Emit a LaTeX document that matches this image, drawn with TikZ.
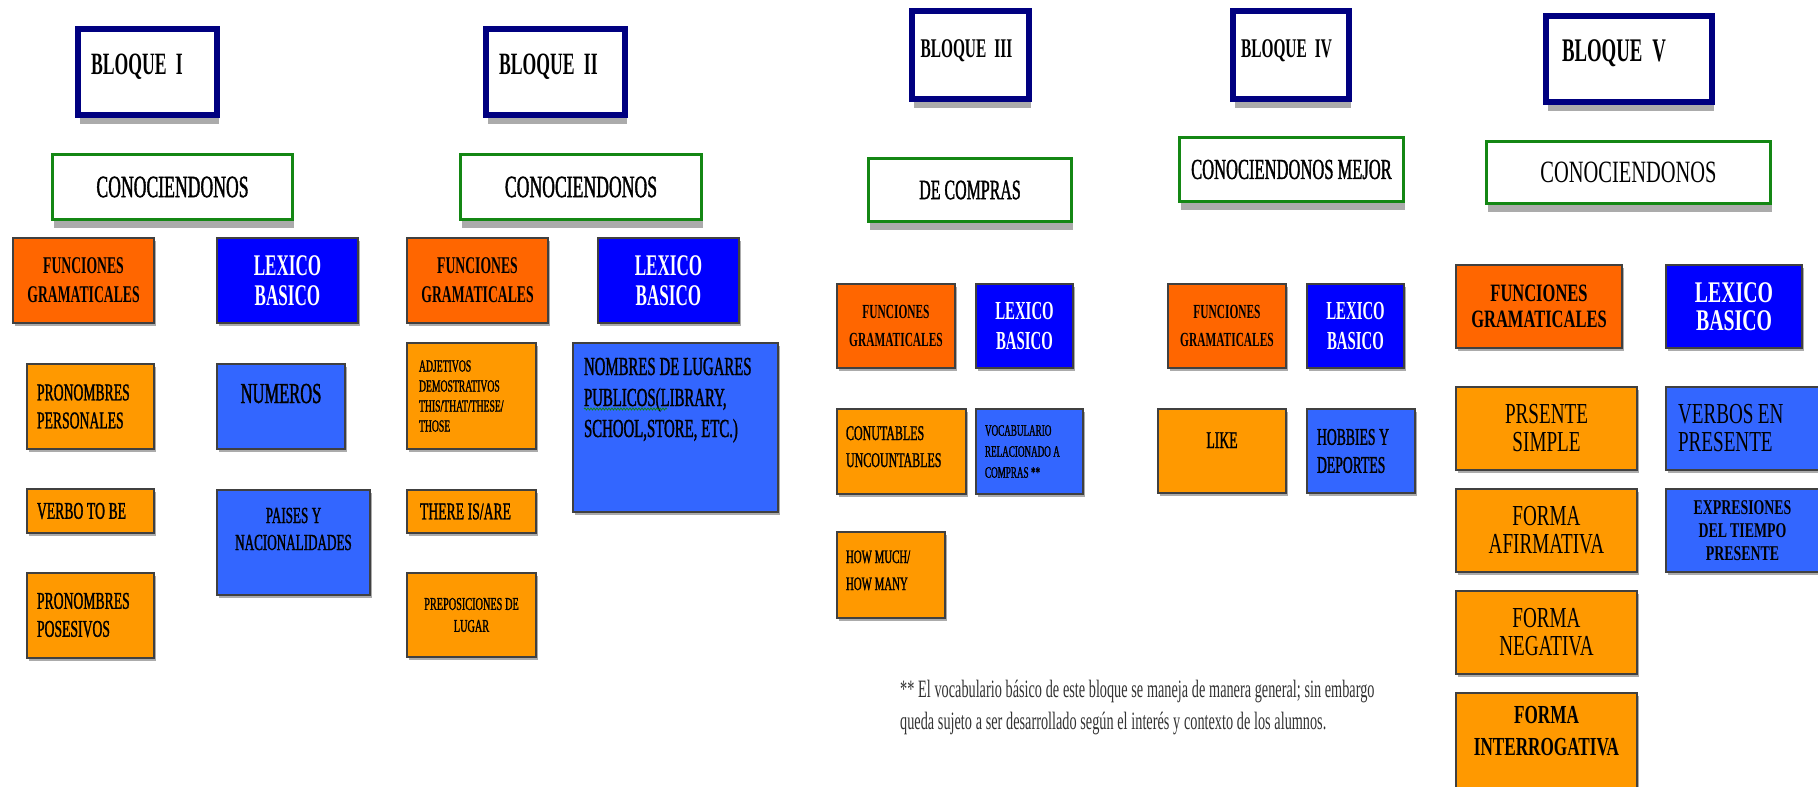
\documentclass[tikz,border=0pt]{standalone}
\usepackage{fontspec}
\setmainfont{Liberation Serif}
\newfontfamily\narrow[FakeStretch=0.57]{Liberation Serif}
\newfontfamily\heavy[FakeStretch=0.57, FakeBold=1.2]{Liberation Serif}
\newfontfamily\wide[FakeStretch=0.66]{Liberation Serif}
\usetikzlibrary{shadows,decorations.pathmorphing}
\definecolor{navy}{RGB}{0,0,128}
\definecolor{verde}{RGB}{20,135,20}
\definecolor{naranja}{RGB}{255,102,0}
\definecolor{ambar}{RGB}{255,153,0}
\definecolor{azul}{RGB}{0,0,255}
\definecolor{celeste}{RGB}{51,102,255}
\newcommand\fsz[2]{\fontsize{#1pt}{#2pt}\selectfont}
\tikzset{node distance=100pt,
  espacio/.style={execute at begin node={\spaceskip=.15em\relax}},
  sombra/.style={drop shadow={shadow xshift=1.5pt, shadow yshift=-#1, fill=black!65, opacity=.5}},
  bloque/.style={draw=navy, line width=6pt, fill=white, sombra=9pt, inner xsep=4pt, espacio,
    minimum width=139pt, minimum height=86pt, text height=4pt, text depth=0pt,
    font=\narrow\bfseries\fsz{31}{34}},
  tema/.style={draw=verde, line width=3pt, fill=white, sombra=8pt, minimum height=65pt,
    font=\heavy\fsz{31}{34}},
  caja/.style={draw=black!75, line width=2pt, sombra=3pt, inner xsep=4pt, align=center, espacio},
  func/.style={caja, fill=naranja, minimum width=141pt, minimum height=85pt,
    font=\narrow\bfseries\fsz{24}{29}},
  lex/.style={caja, fill=azul, text=white, minimum width=141pt, minimum height=85pt,
    font=\narrow\bfseries\fsz{30}{30}},
  item/.style={caja, fill=ambar, minimum width=127pt, minimum height=85pt,
    font=\heavy\fsz{24}{28}},
  voc/.style={caja, fill=celeste, minimum width=128pt, minimum height=85pt,
    font=\heavy\fsz{24}{28}},
  izq/.style={text width=#1, align=left},
  alto/.style={text height=0pt, text depth=#1},
}

\begin{document}
\begin{tikzpicture}[x=1pt, y=-1pt]
  \useasboundingbox (0,0) rectangle (1818,787);
  \fill[white] (0,0) rectangle (1818,787);

  \node (b1) [bloque, izq=113pt] at (147.5,72) {BLOQUE~~I};
  \node (c1) [tema, minimum width=240pt] at (172.5,187) {CONOCIENDONOS};
  \node (f1) [func] at (83.5,280.5) {FUNCIONES\\GRAMATICALES};
  \node (l1) [lex, right of=f1, node distance=204pt] {LEXICO\\BASICO};
  \node (pp1) [item, izq=107pt] at (90.5,406.5) {PRONOMBRES\\PERSONALES};
  \node (vb1) [item, izq=107pt, minimum height=44pt, below of=pp1, node distance=104.5pt] {VERBO TO BE};
  \node (po1) [item, izq=107pt, below of=vb1, node distance=104pt] {PRONOMBRES\\POSESIVOS};
  \node (nu1) [voc, font=\heavy\fsz{29}{32}, text width=120pt, alto=7pt] at (281,406.5) {NUMEROS};
  \node (pa1) [voc, minimum width=153pt, minimum height=105pt, font=\heavy\fsz{23}{27},
    text width=145pt, alto=39pt] at (293.5,542.5) {PAISES Y\\NACIONALIDADES};

  \node (b2) [bloque, izq=113pt] at (555.5,72) {BLOQUE~~II};
  \node (c2) [tema, minimum width=241pt] at (581,187) {CONOCIENDONOS};
  \node (f2) [func] at (477.5,280.5) {FUNCIONES\\GRAMATICALES};
  \node (l2) [lex, right of=f2, node distance=191pt] {LEXICO\\BASICO};
  \node (ad2) [item, minimum width=129pt, minimum height=106pt, izq=105pt, font=\heavy\fsz{17}{20}]
    at (471.5,396) {ADJETIVOS\\DEMOSTRATIVOS\\THIS/THAT/THESE/\\THOSE};
  \node (th2) [item, minimum width=129pt, minimum height=43pt, izq=103pt, below of=ad2,
    node distance=115.5pt] {THERE IS/ARE};
  \node (pr2) [item, minimum width=129pt, minimum height=84pt, font=\heavy\fsz{18}{22},
    below of=th2, node distance=103.5pt] {PREPOSICIONES DE\\LUGAR};
  \node (lu2) [voc, minimum width=205pt, minimum height=169pt, izq=183pt, font=\heavy\fsz{26}{31},
    alto=105pt] at (675.5,427.5) {NOMBRES DE LUGARES\\PUBLICOS(LIBRARY,\\SCHOOL,STORE, ETC.)};
  \draw[verde, line width=0.8pt, decorate, decoration={snake, amplitude=1pt, segment length=3pt}]
    (584,409) -- (667,409);

  \node (b3) [bloque, minimum width=117pt, minimum height=88pt, izq=100pt,
    font=\narrow\bfseries\fsz{27}{30}] at (970.5,55) {BLOQUE~~III};
  \node (c3) [tema, minimum width=203pt, minimum height=63pt, font=\heavy\fsz{28}{31}]
    at (970,190) {DE COMPRAS};
  \node (f3) [func, minimum width=118pt, minimum height=84pt, font=\narrow\bfseries\fsz{20}{28}]
    at (896,326) {FUNCIONES\\GRAMATICALES};
  \node (l3) [lex, minimum width=97pt, minimum height=84pt, font=\narrow\bfseries\fsz{26}{30},
    right of=f3, node distance=128.5pt] {LEXICO\\BASICO};
  \node (cu3) [item, minimum width=129pt, izq=111pt, font=\heavy\fsz{21}{27}, alto=23pt]
    at (901.5,451.5) {CONUTABLES\\UNCOUNTABLES};
  \node (vo3) [voc, minimum width=107pt, izq=89pt, font=\heavy\fsz{16}{21}, right of=cu3,
    node distance=128pt] {VOCABULARIO\\RELACIONADO A\\COMPRAS **};
  \node (hm3) [item, minimum width=108pt, minimum height=86pt, izq=90pt, font=\heavy\fsz{19}{27},
    alto=24pt] at (891,575) {HOW MUCH/\\HOW MANY};
  \node (nota) [anchor=base west, text width=560pt, inner sep=0pt, align=left, espacio, text=black!80,
    font=\narrow\fsz{25}{32}] at (900,697)
    {** El vocabulario básico de este bloque se maneja de manera general; sin embargo\\
     queda sujeto a ser desarrollado según el interés y contexto de los alumnos.};

  \node (b4) [bloque, minimum width=116pt, minimum height=88pt, izq=100pt,
    font=\narrow\bfseries\fsz{27}{30}] at (1291,55) {BLOQUE~~IV};
  \node (c4) [tema, minimum width=224pt, minimum height=64pt, font=\heavy\fsz{29}{32}]
    at (1291.5,169.5) {CONOCIENDONOS MEJOR};
  \node (f4) [func, minimum width=118pt, minimum height=84pt, font=\narrow\bfseries\fsz{20}{28}]
    at (1227,326) {FUNCIONES\\GRAMATICALES};
  \node (l4) [lex, minimum width=97pt, minimum height=84pt, font=\narrow\bfseries\fsz{26}{30},
    right of=f4, node distance=128.5pt] {LEXICO\\BASICO};
  \node (li4) [item, minimum width=128pt, minimum height=84pt, text width=120pt, alto=6pt]
    at (1222,451) {LIKE};
  \node (ho4) [voc, minimum width=108pt, minimum height=84pt, izq=88pt, right of=li4,
    node distance=139pt] {HOBBIES Y\\DEPORTES};

  \node (b5) [bloque, minimum width=166pt, izq=134pt, font=\narrow\bfseries\fsz{33}{36}]
    at (1629,59) {BLOQUE~~V};
  \node (c5) [tema, minimum width=284pt, minimum height=62pt, font=\wide\fsz{31}{34}]
    at (1628.5,172.5) {CONOCIENDONOS};
  \node (f5) [func, minimum width=166pt, minimum height=83pt, font=\wide\bfseries\fsz{25}{26}]
    at (1539,306.5) {FUNCIONES\\GRAMATICALES};
  \node (l5) [lex, minimum width=136pt, minimum height=83pt, font=\wide\bfseries\fsz{30}{28},
    right of=f5, node distance=195pt] {LEXICO\\BASICO};
  \node (ps5) [item, minimum width=181pt, minimum height=83pt, font=\wide\fsz{29}{28}]
    at (1546.5,428.5) {PRSENTE\\SIMPLE};
  \node (af5) [item, minimum width=181pt, minimum height=83pt, font=\wide\fsz{29}{28},
    below of=ps5, node distance=102pt] {FORMA\\AFIRMATIVA};
  \node (ne5) [item, minimum width=181pt, minimum height=83pt, font=\wide\fsz{29}{28},
    below of=af5, node distance=101.5pt] {FORMA\\NEGATIVA};
  \node (in5) [item, minimum width=181pt, minimum height=104pt, font=\wide\bfseries\fsz{26}{32},
    text width=170pt, alto=44pt, below of=ne5, node distance=113pt] {FORMA\\INTERROGATIVA};
  \node (vp5) [voc, minimum width=153pt, minimum height=83pt, izq=129pt, font=\wide\fsz{29}{28}]
    at (1742.5,428.5) {VERBOS EN\\PRESENTE};
  \node (ex5) [voc, minimum width=153pt, minimum height=83pt, font=\wide\bfseries\fsz{21}{23},
    below of=vp5, node distance=102pt] {EXPRESIONES\\DEL TIEMPO\\PRESENTE};
\end{tikzpicture}
\end{document}
